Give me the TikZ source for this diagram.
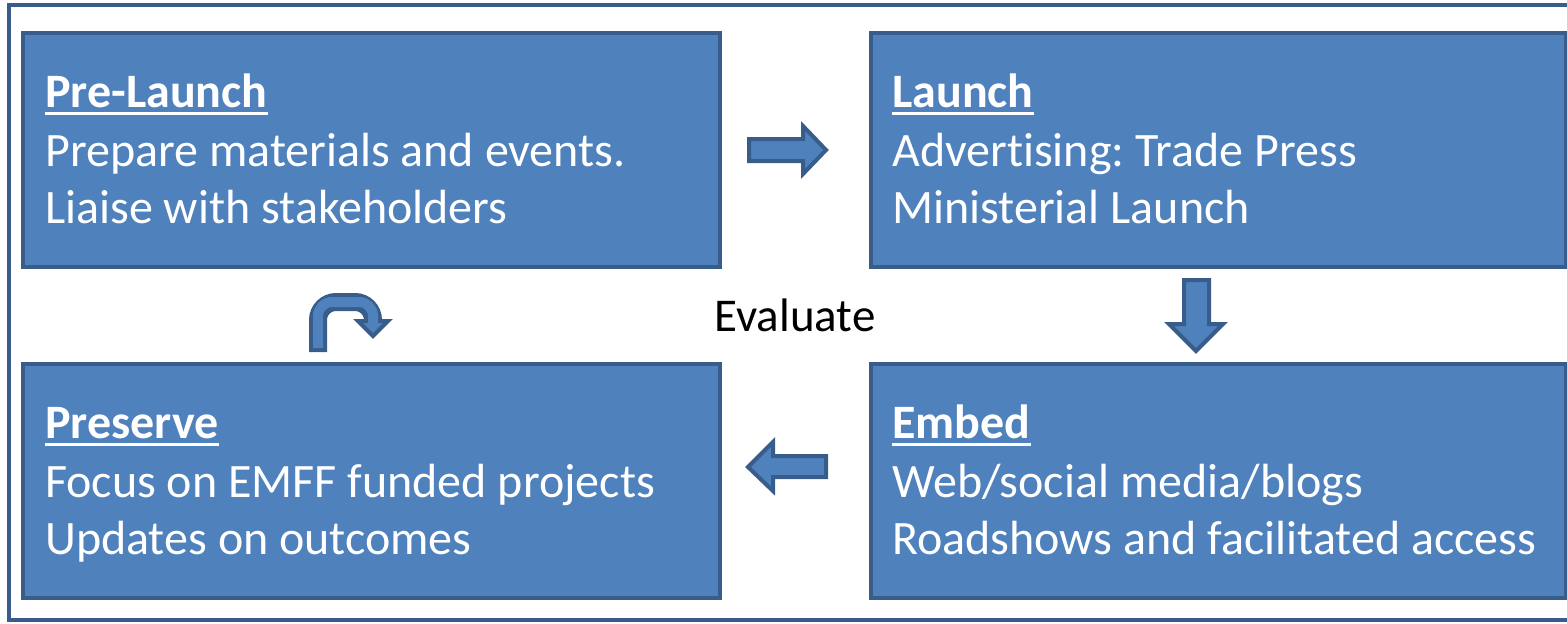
\documentclass[tikz,border=0pt]{standalone}
\usepackage{fontspec}
\setmainfont{Carlito}[Ligatures=NoCommon]
\frenchspacing
\definecolor{boxfill}{HTML}{4F81BD}
\definecolor{boxline}{HTML}{385D8A}
\tikzset{
  box/.style={draw=boxline, fill=boxfill, line width=4.5pt, rectangle, inner sep=0pt},
  ttl/.style={anchor=base west, inner sep=0pt, text=white, font=\fontsize{48}{57}\selectfont\bfseries},
  txt/.style={anchor=base west, inner sep=0pt, text=white, font=\fontsize{48}{57}\selectfont},
  uline/.style={draw=white, line width=3pt},
  blockarrow/.style={fill=boxfill, draw=boxline, line width=4pt, line join=miter},
}
\begin{document}
\begin{tikzpicture}[x=1pt,y=-1pt]
\useasboundingbox (0,0) rectangle (1567,624);
\begin{scope}
\clip (0,0) rectangle (1567,624);
\draw[boxline, line width=4pt] (9,5) rectangle (1590,620);
% boxes
\node[box, minimum width=697pt, minimum height=234pt] (pre) at (371.5,150) {};
\node[box, minimum width=695pt, minimum height=234pt] (lau) at (1218.5,150) {};
\node[box, minimum width=697pt, minimum height=234pt] (pres) at (371.5,481) {};
\node[box, minimum width=695pt, minimum height=234pt] (emb) at (1218.5,481) {};
% texts
\node[ttl] (t1) at (45,107) {Pre-Launch};
\draw[uline] ([yshift=-6pt]t1.base west) -- ([yshift=-6pt]t1.base east);
\node[txt] (t1a) at (45,166) {Prepare materials and events.};
\node[txt] (t1b) at (45,223) {Liaise with stakeholders};

\node[ttl] (t2) at (892,107) {Launch};
\draw[uline] ([yshift=-6pt]t2.base west) -- ([yshift=-6pt]t2.base east);
\node[txt] (t2a) at (892,166) {Advertising: Trade Press};
\node[txt] (t2b) at (892,223) {Ministerial Launch};

\node[ttl] (t3) at (45,438) {Preserve};
\draw[uline] ([yshift=-6pt]t3.base west) -- ([yshift=-6pt]t3.base east);
\node[txt] (t3a) at (45,497) {Focus on EMFF funded projects};
\node[txt] (t3b) at (45,554) {Updates on outcomes};

\node[ttl] (t4) at (892,438) {Embed};
\draw[uline] ([yshift=-6pt]t4.base west) -- ([yshift=-6pt]t4.base east);
\node[txt] (t4a) at (892,497) {Web/social media/blogs};
\node[txt] (t4b) at (892,554) {Roadshows and facilitated access};

\node[anchor=base, inner sep=0pt, font=\fontsize{47}{57}\selectfont] (ev) at (795,331) {Evaluate};

% block arrows
\draw[blockarrow] (749,139) -- (803,139) -- (803,126) -- (826,150) -- (803,174) -- (803,161) -- (749,161) -- cycle;
\draw[blockarrow] (1184,280) -- (1209,280) -- (1209,324) -- (1223,324) -- (1196,351) -- (1169,324) -- (1184,324) -- cycle;
\draw[blockarrow] (826,456) -- (773,456) -- (773,442) -- (748,467) -- (773,491) -- (773,477) -- (826,477) -- cycle;
% u-turn arrow
\draw[boxline, line width=18pt, rounded corners=18pt] (318,352) -- (318,302) -- (373,302) -- (373,322);
\draw[blockarrow] (358,321) -- (388,321) -- (373,336) -- cycle;
\draw[boxfill, line width=10pt, rounded corners=14pt] (318,348) -- (318,302) -- (373,302) -- (373,324);
\end{scope}
\end{tikzpicture}
\end{document}
